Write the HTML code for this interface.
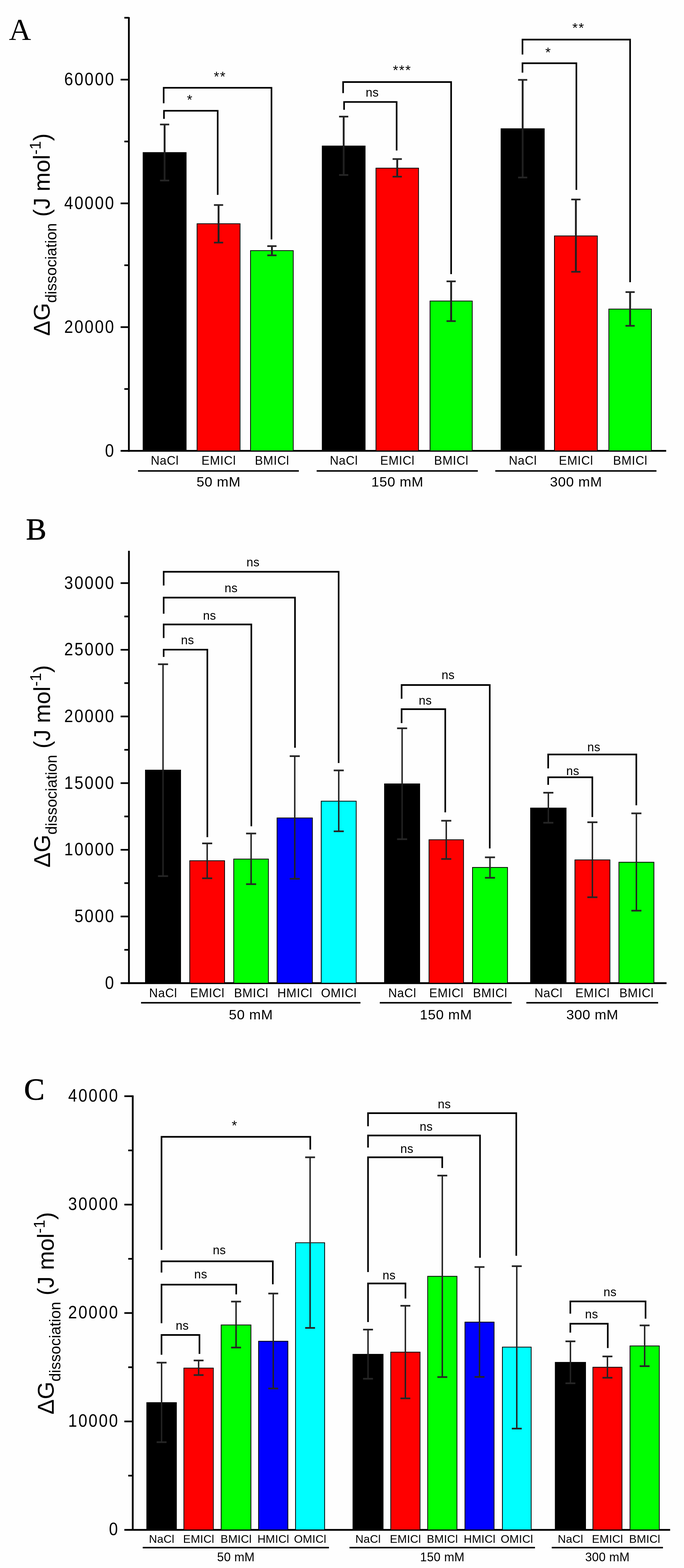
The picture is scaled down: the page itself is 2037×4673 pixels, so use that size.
<!DOCTYPE html>
<html><head><meta charset="utf-8"><title>Figure</title>
<style>html,body{margin:0;padding:0;background:#fefefe;} svg{display:block;}</style>
</head><body>
<svg width="2037" height="4673" viewBox="0 0 2037 4673">
<rect width="2037" height="4673" fill="#fefefe"/>
<text x="26.5" y="118.6" font-family="'Liberation Serif', 'Times New Roman', serif" font-size="91.5" font-weight="normal" text-anchor="start" fill="#000">A</text>
<line x1="383.8" y1="51.0" x2="383.8" y2="1346.4" stroke="#000" stroke-width="5.3"/>
<line x1="359.2" y1="974.9" x2="383.8" y2="974.9" stroke="#000" stroke-width="5.0"/>
<line x1="359.2" y1="606.1" x2="383.8" y2="606.1" stroke="#000" stroke-width="5.0"/>
<line x1="359.2" y1="237.3" x2="383.8" y2="237.3" stroke="#000" stroke-width="5.0"/>
<line x1="370.3" y1="1159.3" x2="383.8" y2="1159.3" stroke="#000" stroke-width="5.0"/>
<line x1="370.3" y1="790.5" x2="383.8" y2="790.5" stroke="#000" stroke-width="5.0"/>
<line x1="370.3" y1="421.7" x2="383.8" y2="421.7" stroke="#000" stroke-width="5.0"/>
<line x1="370.3" y1="52.9" x2="383.8" y2="52.9" stroke="#000" stroke-width="5.0"/>
<line x1="359.2" y1="1343.7" x2="1984.0" y2="1343.7" stroke="#000" stroke-width="5.3"/>
<text transform="translate(343.2,1360.5) scale(0.89,1)" x="0" y="0" font-family="'Liberation Sans', Arial, sans-serif" font-size="53.5" text-anchor="end" letter-spacing="4.4" fill="#000">0</text>
<text transform="translate(343.2,991.7) scale(0.89,1)" x="0" y="0" font-family="'Liberation Sans', Arial, sans-serif" font-size="53.5" text-anchor="end" letter-spacing="4.4" fill="#000">20000</text>
<text transform="translate(343.2,622.9) scale(0.89,1)" x="0" y="0" font-family="'Liberation Sans', Arial, sans-serif" font-size="53.5" text-anchor="end" letter-spacing="4.4" fill="#000">40000</text>
<text transform="translate(343.2,254.1) scale(0.89,1)" x="0" y="0" font-family="'Liberation Sans', Arial, sans-serif" font-size="53.5" text-anchor="end" letter-spacing="4.4" fill="#000">60000</text>
<text transform="translate(148.0,699.3) rotate(-90)" x="0" y="0" text-anchor="middle" font-family="'Liberation Sans', Arial, sans-serif" font-size="68" fill="#000">ΔG<tspan font-size="45.5" dy="20">dissociation</tspan><tspan dy="-20"> (J mol</tspan><tspan font-size="45.5" dy="-27">-1</tspan><tspan dy="27">)</tspan></text>
<rect x="425.0" y="453.5" width="130.5" height="890.2" fill="#000"/>
<rect x="586.9" y="666.8" width="128.0" height="677.0" fill="#ff0000" stroke="#000" stroke-width="2.3"/>
<rect x="746.1" y="746.9" width="127.2" height="596.8" fill="#00ff00" stroke="#000" stroke-width="2.3"/>
<rect x="958.5" y="434.0" width="130.0" height="909.7" fill="#000"/>
<rect x="1119.7" y="501.1" width="126.7" height="842.6" fill="#ff0000" stroke="#000" stroke-width="2.3"/>
<rect x="1280.7" y="897.1" width="125.7" height="446.6" fill="#00ff00" stroke="#000" stroke-width="2.3"/>
<rect x="1491.0" y="382.5" width="131.0" height="961.2" fill="#000"/>
<rect x="1651.2" y="703.1" width="127.7" height="640.6" fill="#ff0000" stroke="#000" stroke-width="2.3"/>
<rect x="1813.2" y="921.1" width="126.7" height="422.6" fill="#00ff00" stroke="#000" stroke-width="2.3"/>
<line x1="490.2" y1="371.0" x2="490.2" y2="538.0" stroke="#202020" stroke-width="5.5"/>
<line x1="476.5" y1="371.0" x2="504.0" y2="371.0" stroke="#262626" stroke-width="5.0"/>
<line x1="476.5" y1="538.0" x2="504.0" y2="538.0" stroke="#262626" stroke-width="5.0"/>
<line x1="650.9" y1="611.0" x2="650.9" y2="723.0" stroke="#202020" stroke-width="5.5"/>
<line x1="637.1" y1="611.0" x2="664.6" y2="611.0" stroke="#262626" stroke-width="5.0"/>
<line x1="637.1" y1="723.0" x2="664.6" y2="723.0" stroke="#262626" stroke-width="5.0"/>
<line x1="809.8" y1="733.5" x2="809.8" y2="761.0" stroke="#202020" stroke-width="5.5"/>
<line x1="796.0" y1="733.5" x2="823.5" y2="733.5" stroke="#262626" stroke-width="5.0"/>
<line x1="796.0" y1="761.0" x2="823.5" y2="761.0" stroke="#262626" stroke-width="5.0"/>
<line x1="1023.5" y1="347.5" x2="1023.5" y2="521.5" stroke="#202020" stroke-width="5.5"/>
<line x1="1009.8" y1="347.5" x2="1037.2" y2="347.5" stroke="#262626" stroke-width="5.0"/>
<line x1="1009.8" y1="521.5" x2="1037.2" y2="521.5" stroke="#262626" stroke-width="5.0"/>
<line x1="1183.0" y1="474.0" x2="1183.0" y2="526.5" stroke="#202020" stroke-width="5.5"/>
<line x1="1169.2" y1="474.0" x2="1196.8" y2="474.0" stroke="#262626" stroke-width="5.0"/>
<line x1="1169.2" y1="526.5" x2="1196.8" y2="526.5" stroke="#262626" stroke-width="5.0"/>
<line x1="1343.5" y1="838.5" x2="1343.5" y2="957.0" stroke="#202020" stroke-width="5.5"/>
<line x1="1329.8" y1="838.5" x2="1357.2" y2="838.5" stroke="#262626" stroke-width="5.0"/>
<line x1="1329.8" y1="957.0" x2="1357.2" y2="957.0" stroke="#262626" stroke-width="5.0"/>
<line x1="1556.5" y1="238.0" x2="1556.5" y2="529.0" stroke="#202020" stroke-width="5.5"/>
<line x1="1542.8" y1="238.0" x2="1570.2" y2="238.0" stroke="#262626" stroke-width="5.0"/>
<line x1="1542.8" y1="529.0" x2="1570.2" y2="529.0" stroke="#262626" stroke-width="5.0"/>
<line x1="1715.0" y1="594.5" x2="1715.0" y2="810.0" stroke="#202020" stroke-width="5.5"/>
<line x1="1701.2" y1="594.5" x2="1728.8" y2="594.5" stroke="#262626" stroke-width="5.0"/>
<line x1="1701.2" y1="810.0" x2="1728.8" y2="810.0" stroke="#262626" stroke-width="5.0"/>
<line x1="1876.5" y1="870.5" x2="1876.5" y2="971.0" stroke="#202020" stroke-width="5.5"/>
<line x1="1862.8" y1="870.5" x2="1890.2" y2="870.5" stroke="#262626" stroke-width="5.0"/>
<line x1="1862.8" y1="971.0" x2="1890.2" y2="971.0" stroke="#262626" stroke-width="5.0"/>
<text x="490.7" y="1385.0" font-family="'Liberation Sans', Arial, sans-serif" font-size="36" font-weight="normal" text-anchor="middle" letter-spacing="0.9" fill="#000">NaCl</text>
<text x="651.3" y="1385.0" font-family="'Liberation Sans', Arial, sans-serif" font-size="36" font-weight="normal" text-anchor="middle" letter-spacing="0.9" fill="#000">EMICl</text>
<text x="810.2" y="1385.0" font-family="'Liberation Sans', Arial, sans-serif" font-size="36" font-weight="normal" text-anchor="middle" letter-spacing="0.9" fill="#000">BMICl</text>
<text x="1024.0" y="1385.0" font-family="'Liberation Sans', Arial, sans-serif" font-size="36" font-weight="normal" text-anchor="middle" letter-spacing="0.9" fill="#000">NaCl</text>
<text x="1183.5" y="1385.0" font-family="'Liberation Sans', Arial, sans-serif" font-size="36" font-weight="normal" text-anchor="middle" letter-spacing="0.9" fill="#000">EMICl</text>
<text x="1344.0" y="1385.0" font-family="'Liberation Sans', Arial, sans-serif" font-size="36" font-weight="normal" text-anchor="middle" letter-spacing="0.9" fill="#000">BMICl</text>
<text x="1557.0" y="1385.0" font-family="'Liberation Sans', Arial, sans-serif" font-size="36" font-weight="normal" text-anchor="middle" letter-spacing="0.9" fill="#000">NaCl</text>
<text x="1715.5" y="1385.0" font-family="'Liberation Sans', Arial, sans-serif" font-size="36" font-weight="normal" text-anchor="middle" letter-spacing="0.9" fill="#000">EMICl</text>
<text x="1877.0" y="1385.0" font-family="'Liberation Sans', Arial, sans-serif" font-size="36" font-weight="normal" text-anchor="middle" letter-spacing="0.9" fill="#000">BMICl</text>
<line x1="411.0" y1="1403.6" x2="890.0" y2="1403.6" stroke="#000" stroke-width="4.5"/>
<text x="651.0" y="1450.2" font-family="'Liberation Sans', Arial, sans-serif" font-size="41.5" font-weight="normal" text-anchor="middle" letter-spacing="0.9" fill="#000">50 mM</text>
<line x1="943.0" y1="1403.6" x2="1423.0" y2="1403.6" stroke="#000" stroke-width="4.5"/>
<text x="1183.5" y="1450.2" font-family="'Liberation Sans', Arial, sans-serif" font-size="41.5" font-weight="normal" text-anchor="middle" letter-spacing="0.9" fill="#000">150 mM</text>
<line x1="1475.0" y1="1403.6" x2="1955.0" y2="1403.6" stroke="#000" stroke-width="4.5"/>
<text x="1715.5" y="1450.2" font-family="'Liberation Sans', Arial, sans-serif" font-size="41.5" font-weight="normal" text-anchor="middle" letter-spacing="0.9" fill="#000">300 mM</text>
<polyline points="488.3,354.2 488.3,330.1 648.3,330.1 648.3,580.8" fill="none" stroke="#000" stroke-width="4.8" stroke-linejoin="miter" stroke-linecap="butt"/>
<polyline points="487.4,307.7 487.4,261.7 808.5,261.7 808.5,713.5" fill="none" stroke="#000" stroke-width="4.8" stroke-linejoin="miter" stroke-linecap="butt"/>
<polyline points="1024.7,327.3 1024.7,303.8 1181.2,303.8 1181.2,448.5" fill="none" stroke="#000" stroke-width="4.8" stroke-linejoin="miter" stroke-linecap="butt"/>
<polyline points="1021.8,277.4 1021.8,244.5 1343.5,244.5 1343.5,817.0" fill="none" stroke="#000" stroke-width="4.8" stroke-linejoin="miter" stroke-linecap="butt"/>
<polyline points="1556.0,216.5 1556.0,188.5 1716.5,188.5 1716.5,566.0" fill="none" stroke="#000" stroke-width="4.8" stroke-linejoin="miter" stroke-linecap="butt"/>
<polyline points="1556.0,162.5 1556.0,118.0 1876.5,118.0 1876.5,841.0" fill="none" stroke="#000" stroke-width="4.8" stroke-linejoin="miter" stroke-linecap="butt"/>
<text x="566.0" y="311.1" font-family="'Liberation Sans', Arial, sans-serif" font-size="41" font-weight="normal" text-anchor="middle" letter-spacing="2.6" fill="#000">*</text>
<text x="655.2" y="242.0" font-family="'Liberation Sans', Arial, sans-serif" font-size="41" font-weight="normal" text-anchor="middle" letter-spacing="2.6" fill="#000">**</text>
<text x="1197.8" y="222.8" font-family="'Liberation Sans', Arial, sans-serif" font-size="41" font-weight="normal" text-anchor="middle" letter-spacing="2.6" fill="#000">***</text>
<text x="1633.3" y="169.8" font-family="'Liberation Sans', Arial, sans-serif" font-size="41" font-weight="normal" text-anchor="middle" letter-spacing="2.6" fill="#000">*</text>
<text x="1723.0" y="97.3" font-family="'Liberation Sans', Arial, sans-serif" font-size="41" font-weight="normal" text-anchor="middle" letter-spacing="2.6" fill="#000">**</text>
<text x="1108.5" y="288.0" font-family="'Liberation Sans', Arial, sans-serif" font-size="36" font-weight="normal" text-anchor="middle" letter-spacing="0.6" fill="#000">ns</text>
<text x="77.5" y="1608.0" font-family="'Liberation Serif', 'Times New Roman', serif" font-size="91" font-weight="normal" text-anchor="start" fill="#000" stroke="#000" stroke-width="1.2">B</text>
<line x1="384.0" y1="1641.5" x2="384.0" y2="2932.7" stroke="#000" stroke-width="5.3"/>
<line x1="359.2" y1="2731.3" x2="384.0" y2="2731.3" stroke="#000" stroke-width="5.0"/>
<line x1="359.2" y1="2532.6" x2="384.0" y2="2532.6" stroke="#000" stroke-width="5.0"/>
<line x1="359.2" y1="2333.9" x2="384.0" y2="2333.9" stroke="#000" stroke-width="5.0"/>
<line x1="359.2" y1="2135.2" x2="384.0" y2="2135.2" stroke="#000" stroke-width="5.0"/>
<line x1="359.2" y1="1936.5" x2="384.0" y2="1936.5" stroke="#000" stroke-width="5.0"/>
<line x1="359.2" y1="1737.8" x2="384.0" y2="1737.8" stroke="#000" stroke-width="5.0"/>
<line x1="370.3" y1="2830.7" x2="384.0" y2="2830.7" stroke="#000" stroke-width="5.0"/>
<line x1="370.3" y1="2631.9" x2="384.0" y2="2631.9" stroke="#000" stroke-width="5.0"/>
<line x1="370.3" y1="2433.2" x2="384.0" y2="2433.2" stroke="#000" stroke-width="5.0"/>
<line x1="370.3" y1="2234.6" x2="384.0" y2="2234.6" stroke="#000" stroke-width="5.0"/>
<line x1="370.3" y1="2035.8" x2="384.0" y2="2035.8" stroke="#000" stroke-width="5.0"/>
<line x1="370.3" y1="1837.2" x2="384.0" y2="1837.2" stroke="#000" stroke-width="5.0"/>
<line x1="359.2" y1="2930.0" x2="1985.0" y2="2930.0" stroke="#000" stroke-width="5.3"/>
<text transform="translate(343.2,2946.8) scale(0.89,1)" x="0" y="0" font-family="'Liberation Sans', Arial, sans-serif" font-size="53.5" text-anchor="end" letter-spacing="4.4" fill="#000">0</text>
<text transform="translate(343.2,2748.1) scale(0.89,1)" x="0" y="0" font-family="'Liberation Sans', Arial, sans-serif" font-size="53.5" text-anchor="end" letter-spacing="4.4" fill="#000">5000</text>
<text transform="translate(343.2,2549.4) scale(0.89,1)" x="0" y="0" font-family="'Liberation Sans', Arial, sans-serif" font-size="53.5" text-anchor="end" letter-spacing="4.4" fill="#000">10000</text>
<text transform="translate(343.2,2350.7) scale(0.89,1)" x="0" y="0" font-family="'Liberation Sans', Arial, sans-serif" font-size="53.5" text-anchor="end" letter-spacing="4.4" fill="#000">15000</text>
<text transform="translate(343.2,2152.0) scale(0.89,1)" x="0" y="0" font-family="'Liberation Sans', Arial, sans-serif" font-size="53.5" text-anchor="end" letter-spacing="4.4" fill="#000">20000</text>
<text transform="translate(343.2,1953.3) scale(0.89,1)" x="0" y="0" font-family="'Liberation Sans', Arial, sans-serif" font-size="53.5" text-anchor="end" letter-spacing="4.4" fill="#000">25000</text>
<text transform="translate(343.2,1754.6) scale(0.89,1)" x="0" y="0" font-family="'Liberation Sans', Arial, sans-serif" font-size="53.5" text-anchor="end" letter-spacing="4.4" fill="#000">30000</text>
<text transform="translate(148.5,2284.0) rotate(-90)" x="0" y="0" text-anchor="middle" font-family="'Liberation Sans', Arial, sans-serif" font-size="68" fill="#000">ΔG<tspan font-size="45.5" dy="20">dissociation</tspan><tspan dy="-20"> (J mol</tspan><tspan font-size="45.5" dy="-27">-1</tspan><tspan dy="27">)</tspan></text>
<rect x="432.0" y="2294.0" width="107.0" height="636.0" fill="#000"/>
<rect x="565.1" y="2565.2" width="103.7" height="364.9" fill="#ff0000" stroke="#000" stroke-width="2.3"/>
<rect x="696.1" y="2560.2" width="103.2" height="369.9" fill="#00ff00" stroke="#000" stroke-width="2.3"/>
<rect x="825.1" y="2437.7" width="105.2" height="492.4" fill="#0000ff" stroke="#000" stroke-width="2.3"/>
<rect x="956.6" y="2387.7" width="104.2" height="542.4" fill="#00ffff" stroke="#000" stroke-width="2.3"/>
<rect x="1144.0" y="2335.0" width="107.0" height="595.0" fill="#000"/>
<rect x="1277.7" y="2502.7" width="102.7" height="427.4" fill="#ff0000" stroke="#000" stroke-width="2.3"/>
<rect x="1407.2" y="2585.2" width="104.2" height="344.9" fill="#00ff00" stroke="#000" stroke-width="2.3"/>
<rect x="1579.0" y="2407.0" width="108.0" height="523.0" fill="#000"/>
<rect x="1712.2" y="2562.7" width="104.2" height="367.4" fill="#ff0000" stroke="#000" stroke-width="2.3"/>
<rect x="1843.2" y="2569.7" width="104.2" height="360.4" fill="#00ff00" stroke="#000" stroke-width="2.3"/>
<line x1="485.5" y1="1979.6" x2="485.5" y2="2611.0" stroke="#222" stroke-width="4.3"/>
<line x1="470.5" y1="1979.6" x2="500.5" y2="1979.6" stroke="#262626" stroke-width="5.0"/>
<line x1="470.5" y1="2611.0" x2="500.5" y2="2611.0" stroke="#262626" stroke-width="5.0"/>
<line x1="617.0" y1="2513.5" x2="617.0" y2="2617.5" stroke="#222" stroke-width="4.3"/>
<line x1="602.0" y1="2513.5" x2="632.0" y2="2513.5" stroke="#262626" stroke-width="5.0"/>
<line x1="602.0" y1="2617.5" x2="632.0" y2="2617.5" stroke="#262626" stroke-width="5.0"/>
<line x1="747.8" y1="2484.0" x2="747.8" y2="2635.0" stroke="#222" stroke-width="4.3"/>
<line x1="732.8" y1="2484.0" x2="762.8" y2="2484.0" stroke="#262626" stroke-width="5.0"/>
<line x1="732.8" y1="2635.0" x2="762.8" y2="2635.0" stroke="#262626" stroke-width="5.0"/>
<line x1="877.8" y1="2253.5" x2="877.8" y2="2619.0" stroke="#222" stroke-width="4.3"/>
<line x1="862.8" y1="2253.5" x2="892.8" y2="2253.5" stroke="#262626" stroke-width="5.0"/>
<line x1="862.8" y1="2619.0" x2="892.8" y2="2619.0" stroke="#262626" stroke-width="5.0"/>
<line x1="1008.8" y1="2296.0" x2="1008.8" y2="2477.5" stroke="#222" stroke-width="4.3"/>
<line x1="993.8" y1="2296.0" x2="1023.8" y2="2296.0" stroke="#262626" stroke-width="5.0"/>
<line x1="993.8" y1="2477.5" x2="1023.8" y2="2477.5" stroke="#262626" stroke-width="5.0"/>
<line x1="1197.5" y1="2170.5" x2="1197.5" y2="2501.0" stroke="#222" stroke-width="4.3"/>
<line x1="1182.5" y1="2170.5" x2="1212.5" y2="2170.5" stroke="#262626" stroke-width="5.0"/>
<line x1="1182.5" y1="2501.0" x2="1212.5" y2="2501.0" stroke="#262626" stroke-width="5.0"/>
<line x1="1329.0" y1="2446.0" x2="1329.0" y2="2560.0" stroke="#222" stroke-width="4.3"/>
<line x1="1314.0" y1="2446.0" x2="1344.0" y2="2446.0" stroke="#262626" stroke-width="5.0"/>
<line x1="1314.0" y1="2560.0" x2="1344.0" y2="2560.0" stroke="#262626" stroke-width="5.0"/>
<line x1="1459.2" y1="2555.0" x2="1459.2" y2="2616.0" stroke="#222" stroke-width="4.3"/>
<line x1="1444.2" y1="2555.0" x2="1474.2" y2="2555.0" stroke="#262626" stroke-width="5.0"/>
<line x1="1444.2" y1="2616.0" x2="1474.2" y2="2616.0" stroke="#262626" stroke-width="5.0"/>
<line x1="1633.0" y1="2362.5" x2="1633.0" y2="2452.0" stroke="#222" stroke-width="4.3"/>
<line x1="1618.0" y1="2362.5" x2="1648.0" y2="2362.5" stroke="#262626" stroke-width="5.0"/>
<line x1="1618.0" y1="2452.0" x2="1648.0" y2="2452.0" stroke="#262626" stroke-width="5.0"/>
<line x1="1764.2" y1="2450.5" x2="1764.2" y2="2674.0" stroke="#222" stroke-width="4.3"/>
<line x1="1749.2" y1="2450.5" x2="1779.2" y2="2450.5" stroke="#262626" stroke-width="5.0"/>
<line x1="1749.2" y1="2674.0" x2="1779.2" y2="2674.0" stroke="#262626" stroke-width="5.0"/>
<line x1="1895.2" y1="2424.0" x2="1895.2" y2="2714.0" stroke="#222" stroke-width="4.3"/>
<line x1="1880.2" y1="2424.0" x2="1910.2" y2="2424.0" stroke="#262626" stroke-width="5.0"/>
<line x1="1880.2" y1="2714.0" x2="1910.2" y2="2714.0" stroke="#262626" stroke-width="5.0"/>
<text x="485.9" y="2972.3" font-family="'Liberation Sans', Arial, sans-serif" font-size="36" font-weight="normal" text-anchor="middle" letter-spacing="0.9" fill="#000">NaCl</text>
<text x="617.5" y="2972.3" font-family="'Liberation Sans', Arial, sans-serif" font-size="36" font-weight="normal" text-anchor="middle" letter-spacing="0.9" fill="#000">EMICl</text>
<text x="748.2" y="2972.3" font-family="'Liberation Sans', Arial, sans-serif" font-size="36" font-weight="normal" text-anchor="middle" letter-spacing="0.9" fill="#000">BMICl</text>
<text x="878.2" y="2972.3" font-family="'Liberation Sans', Arial, sans-serif" font-size="36" font-weight="normal" text-anchor="middle" letter-spacing="0.9" fill="#000">HMICl</text>
<text x="1009.2" y="2972.3" font-family="'Liberation Sans', Arial, sans-serif" font-size="36" font-weight="normal" text-anchor="middle" letter-spacing="0.9" fill="#000">OMICl</text>
<text x="1198.0" y="2972.3" font-family="'Liberation Sans', Arial, sans-serif" font-size="36" font-weight="normal" text-anchor="middle" letter-spacing="0.9" fill="#000">NaCl</text>
<text x="1329.5" y="2972.3" font-family="'Liberation Sans', Arial, sans-serif" font-size="36" font-weight="normal" text-anchor="middle" letter-spacing="0.9" fill="#000">EMICl</text>
<text x="1459.7" y="2972.3" font-family="'Liberation Sans', Arial, sans-serif" font-size="36" font-weight="normal" text-anchor="middle" letter-spacing="0.9" fill="#000">BMICl</text>
<text x="1633.5" y="2972.3" font-family="'Liberation Sans', Arial, sans-serif" font-size="36" font-weight="normal" text-anchor="middle" letter-spacing="0.9" fill="#000">NaCl</text>
<text x="1764.7" y="2972.3" font-family="'Liberation Sans', Arial, sans-serif" font-size="36" font-weight="normal" text-anchor="middle" letter-spacing="0.9" fill="#000">EMICl</text>
<text x="1895.7" y="2972.3" font-family="'Liberation Sans', Arial, sans-serif" font-size="36" font-weight="normal" text-anchor="middle" letter-spacing="0.9" fill="#000">BMICl</text>
<line x1="420.0" y1="2988.5" x2="1073.5" y2="2988.5" stroke="#000" stroke-width="4.5"/>
<text x="747.2" y="3038.0" font-family="'Liberation Sans', Arial, sans-serif" font-size="41.5" font-weight="normal" text-anchor="middle" letter-spacing="0.9" fill="#000">50 mM</text>
<line x1="1131.0" y1="2988.5" x2="1524.0" y2="2988.5" stroke="#000" stroke-width="4.5"/>
<text x="1328.0" y="3038.0" font-family="'Liberation Sans', Arial, sans-serif" font-size="41.5" font-weight="normal" text-anchor="middle" letter-spacing="0.9" fill="#000">150 mM</text>
<line x1="1567.5" y1="2988.5" x2="1960.0" y2="2988.5" stroke="#000" stroke-width="4.5"/>
<text x="1764.2" y="3038.0" font-family="'Liberation Sans', Arial, sans-serif" font-size="41.5" font-weight="normal" text-anchor="middle" letter-spacing="0.9" fill="#000">300 mM</text>
<polyline points="487.4,1957.8 487.4,1936.2 617.5,1936.2 617.5,2495.0" fill="none" stroke="#000" stroke-width="4.8" stroke-linejoin="miter" stroke-linecap="butt"/>
<polyline points="487.4,1901.5 487.4,1861.0 748.5,1861.0 748.5,2462.5" fill="none" stroke="#000" stroke-width="4.8" stroke-linejoin="miter" stroke-linecap="butt"/>
<polyline points="487.4,1829.0 487.4,1781.0 878.5,1781.0 878.5,2228.5" fill="none" stroke="#000" stroke-width="4.8" stroke-linejoin="miter" stroke-linecap="butt"/>
<polyline points="487.4,1745.0 487.4,1704.0 1008.5,1704.0 1008.5,2274.0" fill="none" stroke="#000" stroke-width="4.8" stroke-linejoin="miter" stroke-linecap="butt"/>
<polyline points="1196.0,2155.0 1196.0,2113.5 1326.0,2113.5 1326.0,2421.0" fill="none" stroke="#000" stroke-width="4.8" stroke-linejoin="miter" stroke-linecap="butt"/>
<polyline points="1196.0,2082.5 1196.0,2041.5 1458.5,2041.5 1458.5,2528.5" fill="none" stroke="#000" stroke-width="4.8" stroke-linejoin="miter" stroke-linecap="butt"/>
<polyline points="1632.5,2339.0 1632.5,2316.5 1764.0,2316.5 1764.0,2435.0" fill="none" stroke="#000" stroke-width="4.8" stroke-linejoin="miter" stroke-linecap="butt"/>
<polyline points="1632.5,2290.0 1632.5,2248.5 1895.0,2248.5 1895.0,2400.0" fill="none" stroke="#000" stroke-width="4.8" stroke-linejoin="miter" stroke-linecap="butt"/>
<text x="558.6" y="1920.0" font-family="'Liberation Sans', Arial, sans-serif" font-size="36" font-weight="normal" text-anchor="middle" letter-spacing="0.6" fill="#000">ns</text>
<text x="624.1" y="1846.5" font-family="'Liberation Sans', Arial, sans-serif" font-size="36" font-weight="normal" text-anchor="middle" letter-spacing="0.6" fill="#000">ns</text>
<text x="688.3" y="1765.0" font-family="'Liberation Sans', Arial, sans-serif" font-size="36" font-weight="normal" text-anchor="middle" letter-spacing="0.6" fill="#000">ns</text>
<text x="753.5" y="1688.0" font-family="'Liberation Sans', Arial, sans-serif" font-size="36" font-weight="normal" text-anchor="middle" letter-spacing="0.6" fill="#000">ns</text>
<text x="1266.5" y="2100.0" font-family="'Liberation Sans', Arial, sans-serif" font-size="36" font-weight="normal" text-anchor="middle" letter-spacing="0.6" fill="#000">ns</text>
<text x="1334.5" y="2024.0" font-family="'Liberation Sans', Arial, sans-serif" font-size="36" font-weight="normal" text-anchor="middle" letter-spacing="0.6" fill="#000">ns</text>
<text x="1705.8" y="2310.0" font-family="'Liberation Sans', Arial, sans-serif" font-size="36" font-weight="normal" text-anchor="middle" letter-spacing="0.6" fill="#000">ns</text>
<text x="1768.5" y="2238.5" font-family="'Liberation Sans', Arial, sans-serif" font-size="36" font-weight="normal" text-anchor="middle" letter-spacing="0.6" fill="#000">ns</text>
<text x="71.5" y="3276.5" font-family="'Liberation Serif', 'Times New Roman', serif" font-size="92" font-weight="normal" text-anchor="start" fill="#000" stroke="#000" stroke-width="1.2">C</text>
<line x1="395.3" y1="3264.4" x2="395.3" y2="4561.9" stroke="#000" stroke-width="5.3"/>
<line x1="370.3" y1="4236.2" x2="395.3" y2="4236.2" stroke="#000" stroke-width="5.0"/>
<line x1="370.3" y1="3913.1" x2="395.3" y2="3913.1" stroke="#000" stroke-width="5.0"/>
<line x1="370.3" y1="3590.0" x2="395.3" y2="3590.0" stroke="#000" stroke-width="5.0"/>
<line x1="370.3" y1="3266.9" x2="395.3" y2="3266.9" stroke="#000" stroke-width="5.0"/>
<line x1="381.9" y1="4397.8" x2="395.3" y2="4397.8" stroke="#000" stroke-width="5.0"/>
<line x1="381.9" y1="4074.7" x2="395.3" y2="4074.7" stroke="#000" stroke-width="5.0"/>
<line x1="381.9" y1="3751.6" x2="395.3" y2="3751.6" stroke="#000" stroke-width="5.0"/>
<line x1="381.9" y1="3428.5" x2="395.3" y2="3428.5" stroke="#000" stroke-width="5.0"/>
<line x1="370.3" y1="4559.3" x2="1995.7" y2="4559.3" stroke="#000" stroke-width="5.3"/>
<text transform="translate(355.0,4575.3) scale(0.89,1)" x="0" y="0" font-family="'Liberation Sans', Arial, sans-serif" font-size="53.5" text-anchor="end" letter-spacing="4.4" fill="#000">0</text>
<text transform="translate(355.0,4252.2) scale(0.89,1)" x="0" y="0" font-family="'Liberation Sans', Arial, sans-serif" font-size="53.5" text-anchor="end" letter-spacing="4.4" fill="#000">10000</text>
<text transform="translate(355.0,3929.1) scale(0.89,1)" x="0" y="0" font-family="'Liberation Sans', Arial, sans-serif" font-size="53.5" text-anchor="end" letter-spacing="4.4" fill="#000">20000</text>
<text transform="translate(355.0,3606.0) scale(0.89,1)" x="0" y="0" font-family="'Liberation Sans', Arial, sans-serif" font-size="53.5" text-anchor="end" letter-spacing="4.4" fill="#000">30000</text>
<text transform="translate(355.0,3282.9) scale(0.89,1)" x="0" y="0" font-family="'Liberation Sans', Arial, sans-serif" font-size="53.5" text-anchor="end" letter-spacing="4.4" fill="#000">40000</text>
<text transform="translate(159.7,3914.0) rotate(-90)" x="0" y="0" text-anchor="middle" font-family="'Liberation Sans', Arial, sans-serif" font-size="68" fill="#000">ΔG<tspan font-size="45.5" dy="20">dissociation</tspan><tspan dy="-20"> (J mol</tspan><tspan font-size="45.5" dy="-27">-1</tspan><tspan dy="27">)</tspan></text>
<rect x="436.0" y="4179.0" width="90.5" height="380.3" fill="#000"/>
<rect x="547.6" y="4077.2" width="87.7" height="482.2" fill="#ff0000" stroke="#000" stroke-width="2.3"/>
<rect x="658.6" y="3948.7" width="88.7" height="610.7" fill="#00ff00" stroke="#000" stroke-width="2.3"/>
<rect x="770.1" y="3997.2" width="87.2" height="562.2" fill="#0000ff" stroke="#000" stroke-width="2.3"/>
<rect x="880.1" y="3703.7" width="86.7" height="855.7" fill="#00ffff" stroke="#000" stroke-width="2.3"/>
<rect x="1050.0" y="4035.0" width="92.0" height="524.3" fill="#000"/>
<rect x="1163.7" y="4029.7" width="87.2" height="529.7" fill="#ff0000" stroke="#000" stroke-width="2.3"/>
<rect x="1273.7" y="3803.7" width="87.2" height="755.7" fill="#00ff00" stroke="#000" stroke-width="2.3"/>
<rect x="1384.7" y="3940.2" width="86.7" height="619.2" fill="#0000ff" stroke="#000" stroke-width="2.3"/>
<rect x="1496.2" y="4014.7" width="85.7" height="544.7" fill="#00ffff" stroke="#000" stroke-width="2.3"/>
<rect x="1652.5" y="4059.0" width="92.5" height="500.3" fill="#000"/>
<rect x="1765.7" y="4074.7" width="86.7" height="484.7" fill="#ff0000" stroke="#000" stroke-width="2.3"/>
<rect x="1876.2" y="4011.2" width="87.2" height="548.2" fill="#00ff00" stroke="#000" stroke-width="2.3"/>
<line x1="481.2" y1="4061.0" x2="481.2" y2="4298.0" stroke="#222" stroke-width="4.3"/>
<line x1="466.5" y1="4061.0" x2="496.0" y2="4061.0" stroke="#262626" stroke-width="5.0"/>
<line x1="466.5" y1="4298.0" x2="496.0" y2="4298.0" stroke="#262626" stroke-width="5.0"/>
<line x1="591.5" y1="4054.5" x2="591.5" y2="4098.0" stroke="#222" stroke-width="4.3"/>
<line x1="576.8" y1="4054.5" x2="606.2" y2="4054.5" stroke="#262626" stroke-width="5.0"/>
<line x1="576.8" y1="4098.0" x2="606.2" y2="4098.0" stroke="#262626" stroke-width="5.0"/>
<line x1="703.0" y1="3879.0" x2="703.0" y2="4016.0" stroke="#222" stroke-width="4.3"/>
<line x1="688.2" y1="3879.0" x2="717.8" y2="3879.0" stroke="#262626" stroke-width="5.0"/>
<line x1="688.2" y1="4016.0" x2="717.8" y2="4016.0" stroke="#262626" stroke-width="5.0"/>
<line x1="813.8" y1="3855.0" x2="813.8" y2="4138.0" stroke="#222" stroke-width="4.3"/>
<line x1="799.0" y1="3855.0" x2="828.5" y2="3855.0" stroke="#262626" stroke-width="5.0"/>
<line x1="799.0" y1="4138.0" x2="828.5" y2="4138.0" stroke="#262626" stroke-width="5.0"/>
<line x1="923.5" y1="3449.0" x2="923.5" y2="3957.5" stroke="#222" stroke-width="4.3"/>
<line x1="908.8" y1="3449.0" x2="938.2" y2="3449.0" stroke="#262626" stroke-width="5.0"/>
<line x1="908.8" y1="3957.5" x2="938.2" y2="3957.5" stroke="#262626" stroke-width="5.0"/>
<line x1="1096.0" y1="3962.5" x2="1096.0" y2="4109.0" stroke="#222" stroke-width="4.3"/>
<line x1="1081.2" y1="3962.5" x2="1110.8" y2="3962.5" stroke="#262626" stroke-width="5.0"/>
<line x1="1081.2" y1="4109.0" x2="1110.8" y2="4109.0" stroke="#262626" stroke-width="5.0"/>
<line x1="1207.2" y1="3891.5" x2="1207.2" y2="4167.5" stroke="#222" stroke-width="4.3"/>
<line x1="1192.5" y1="3891.5" x2="1222.0" y2="3891.5" stroke="#262626" stroke-width="5.0"/>
<line x1="1192.5" y1="4167.5" x2="1222.0" y2="4167.5" stroke="#262626" stroke-width="5.0"/>
<line x1="1317.2" y1="3503.5" x2="1317.2" y2="4104.0" stroke="#222" stroke-width="4.3"/>
<line x1="1302.5" y1="3503.5" x2="1332.0" y2="3503.5" stroke="#262626" stroke-width="5.0"/>
<line x1="1302.5" y1="4104.0" x2="1332.0" y2="4104.0" stroke="#262626" stroke-width="5.0"/>
<line x1="1428.0" y1="3776.0" x2="1428.0" y2="4103.5" stroke="#222" stroke-width="4.3"/>
<line x1="1413.2" y1="3776.0" x2="1442.8" y2="3776.0" stroke="#262626" stroke-width="5.0"/>
<line x1="1413.2" y1="4103.5" x2="1442.8" y2="4103.5" stroke="#262626" stroke-width="5.0"/>
<line x1="1539.0" y1="3773.5" x2="1539.0" y2="4257.5" stroke="#222" stroke-width="4.3"/>
<line x1="1524.2" y1="3773.5" x2="1553.8" y2="3773.5" stroke="#262626" stroke-width="5.0"/>
<line x1="1524.2" y1="4257.5" x2="1553.8" y2="4257.5" stroke="#262626" stroke-width="5.0"/>
<line x1="1698.8" y1="3997.5" x2="1698.8" y2="4122.5" stroke="#222" stroke-width="4.3"/>
<line x1="1684.0" y1="3997.5" x2="1713.5" y2="3997.5" stroke="#262626" stroke-width="5.0"/>
<line x1="1684.0" y1="4122.5" x2="1713.5" y2="4122.5" stroke="#262626" stroke-width="5.0"/>
<line x1="1809.0" y1="4042.5" x2="1809.0" y2="4106.0" stroke="#222" stroke-width="4.3"/>
<line x1="1794.2" y1="4042.5" x2="1823.8" y2="4042.5" stroke="#262626" stroke-width="5.0"/>
<line x1="1794.2" y1="4106.0" x2="1823.8" y2="4106.0" stroke="#262626" stroke-width="5.0"/>
<line x1="1919.8" y1="3950.0" x2="1919.8" y2="4071.5" stroke="#222" stroke-width="4.3"/>
<line x1="1905.0" y1="3950.0" x2="1934.5" y2="3950.0" stroke="#262626" stroke-width="5.0"/>
<line x1="1905.0" y1="4071.5" x2="1934.5" y2="4071.5" stroke="#262626" stroke-width="5.0"/>
<text x="481.4" y="4597.7" font-family="'Liberation Sans', Arial, sans-serif" font-size="33.5" font-weight="normal" text-anchor="middle" letter-spacing="0.3" fill="#000">NaCl</text>
<text x="591.6" y="4597.7" font-family="'Liberation Sans', Arial, sans-serif" font-size="33.5" font-weight="normal" text-anchor="middle" letter-spacing="0.3" fill="#000">EMICl</text>
<text x="703.1" y="4597.7" font-family="'Liberation Sans', Arial, sans-serif" font-size="33.5" font-weight="normal" text-anchor="middle" letter-spacing="0.3" fill="#000">BMICl</text>
<text x="813.9" y="4597.7" font-family="'Liberation Sans', Arial, sans-serif" font-size="33.5" font-weight="normal" text-anchor="middle" letter-spacing="0.3" fill="#000">HMICl</text>
<text x="923.6" y="4597.7" font-family="'Liberation Sans', Arial, sans-serif" font-size="33.5" font-weight="normal" text-anchor="middle" letter-spacing="0.3" fill="#000">OMICl</text>
<text x="1096.2" y="4597.7" font-family="'Liberation Sans', Arial, sans-serif" font-size="33.5" font-weight="normal" text-anchor="middle" letter-spacing="0.3" fill="#000">NaCl</text>
<text x="1207.4" y="4597.7" font-family="'Liberation Sans', Arial, sans-serif" font-size="33.5" font-weight="normal" text-anchor="middle" letter-spacing="0.3" fill="#000">EMICl</text>
<text x="1317.4" y="4597.7" font-family="'Liberation Sans', Arial, sans-serif" font-size="33.5" font-weight="normal" text-anchor="middle" letter-spacing="0.3" fill="#000">BMICl</text>
<text x="1428.2" y="4597.7" font-family="'Liberation Sans', Arial, sans-serif" font-size="33.5" font-weight="normal" text-anchor="middle" letter-spacing="0.3" fill="#000">HMICl</text>
<text x="1539.2" y="4597.7" font-family="'Liberation Sans', Arial, sans-serif" font-size="33.5" font-weight="normal" text-anchor="middle" letter-spacing="0.3" fill="#000">OMICl</text>
<text x="1698.9" y="4597.7" font-family="'Liberation Sans', Arial, sans-serif" font-size="33.5" font-weight="normal" text-anchor="middle" letter-spacing="0.3" fill="#000">NaCl</text>
<text x="1809.2" y="4597.7" font-family="'Liberation Sans', Arial, sans-serif" font-size="33.5" font-weight="normal" text-anchor="middle" letter-spacing="0.3" fill="#000">EMICl</text>
<text x="1919.9" y="4597.7" font-family="'Liberation Sans', Arial, sans-serif" font-size="33.5" font-weight="normal" text-anchor="middle" letter-spacing="0.3" fill="#000">BMICl</text>
<line x1="425.0" y1="4612.3" x2="979.6" y2="4612.3" stroke="#000" stroke-width="4.5"/>
<text x="702.5" y="4653.0" font-family="'Liberation Sans', Arial, sans-serif" font-size="36" font-weight="normal" text-anchor="middle" letter-spacing="0.4" fill="#000">50 mM</text>
<line x1="1040.8" y1="4612.3" x2="1593.2" y2="4612.3" stroke="#000" stroke-width="4.5"/>
<text x="1317.2" y="4653.0" font-family="'Liberation Sans', Arial, sans-serif" font-size="36" font-weight="normal" text-anchor="middle" letter-spacing="0.4" fill="#000">150 mM</text>
<line x1="1643.1" y1="4612.3" x2="1974.3" y2="4612.3" stroke="#000" stroke-width="4.5"/>
<text x="1808.9" y="4653.0" font-family="'Liberation Sans', Arial, sans-serif" font-size="36" font-weight="normal" text-anchor="middle" letter-spacing="0.4" fill="#000">300 mM</text>
<polyline points="481.0,4037.5 481.0,3978.5 594.0,3978.5 594.0,4035.0" fill="none" stroke="#000" stroke-width="4.8" stroke-linejoin="miter" stroke-linecap="butt"/>
<polyline points="481.0,3943.5 481.0,3828.5 703.5,3828.5 703.5,3857.5" fill="none" stroke="#000" stroke-width="4.8" stroke-linejoin="miter" stroke-linecap="butt"/>
<polyline points="481.0,3792.5 481.0,3759.0 812.5,3759.0 812.5,3827.5" fill="none" stroke="#000" stroke-width="4.8" stroke-linejoin="miter" stroke-linecap="butt"/>
<polyline points="481.0,3725.0 481.0,3388.0 924.0,3388.0 924.0,3426.0" fill="none" stroke="#000" stroke-width="4.8" stroke-linejoin="miter" stroke-linecap="butt"/>
<polyline points="1096.0,3940.0 1096.0,3825.0 1207.5,3825.0 1207.5,3870.0" fill="none" stroke="#000" stroke-width="4.8" stroke-linejoin="miter" stroke-linecap="butt"/>
<polyline points="1096.0,3791.0 1096.0,3449.0 1317.0,3449.0 1317.0,3481.0" fill="none" stroke="#000" stroke-width="4.8" stroke-linejoin="miter" stroke-linecap="butt"/>
<polyline points="1096.0,3420.0 1096.0,3384.0 1429.5,3384.0 1429.5,3748.5" fill="none" stroke="#000" stroke-width="4.8" stroke-linejoin="miter" stroke-linecap="butt"/>
<polyline points="1096.0,3356.5 1096.0,3317.5 1537.5,3317.5 1537.5,3742.5" fill="none" stroke="#000" stroke-width="4.8" stroke-linejoin="miter" stroke-linecap="butt"/>
<polyline points="1698.5,3971.5 1698.5,3945.0 1810.0,3945.0 1810.0,4017.5" fill="none" stroke="#000" stroke-width="4.8" stroke-linejoin="miter" stroke-linecap="butt"/>
<polyline points="1698.5,3915.0 1698.5,3878.5 1922.5,3878.5 1922.5,3930.0" fill="none" stroke="#000" stroke-width="4.8" stroke-linejoin="miter" stroke-linecap="butt"/>
<text x="542.8" y="3962.5" font-family="'Liberation Sans', Arial, sans-serif" font-size="36" font-weight="normal" text-anchor="middle" letter-spacing="0.6" fill="#000">ns</text>
<text x="597.8" y="3810.0" font-family="'Liberation Sans', Arial, sans-serif" font-size="36" font-weight="normal" text-anchor="middle" letter-spacing="0.6" fill="#000">ns</text>
<text x="653.3" y="3737.5" font-family="'Liberation Sans', Arial, sans-serif" font-size="36" font-weight="normal" text-anchor="middle" letter-spacing="0.6" fill="#000">ns</text>
<text x="1158.8" y="3812.5" font-family="'Liberation Sans', Arial, sans-serif" font-size="36" font-weight="normal" text-anchor="middle" letter-spacing="0.6" fill="#000">ns</text>
<text x="1211.8" y="3436.0" font-family="'Liberation Sans', Arial, sans-serif" font-size="36" font-weight="normal" text-anchor="middle" letter-spacing="0.6" fill="#000">ns</text>
<text x="1269.3" y="3370.0" font-family="'Liberation Sans', Arial, sans-serif" font-size="36" font-weight="normal" text-anchor="middle" letter-spacing="0.6" fill="#000">ns</text>
<text x="1323.3" y="3302.5" font-family="'Liberation Sans', Arial, sans-serif" font-size="36" font-weight="normal" text-anchor="middle" letter-spacing="0.6" fill="#000">ns</text>
<text x="1761.8" y="3928.5" font-family="'Liberation Sans', Arial, sans-serif" font-size="36" font-weight="normal" text-anchor="middle" letter-spacing="0.6" fill="#000">ns</text>
<text x="1816.8" y="3862.5" font-family="'Liberation Sans', Arial, sans-serif" font-size="36" font-weight="normal" text-anchor="middle" letter-spacing="0.6" fill="#000">ns</text>
<text x="699.3" y="3368.3" font-family="'Liberation Sans', Arial, sans-serif" font-size="41" font-weight="normal" text-anchor="middle" letter-spacing="2.6" fill="#000">*</text>
</svg>
</body></html>
